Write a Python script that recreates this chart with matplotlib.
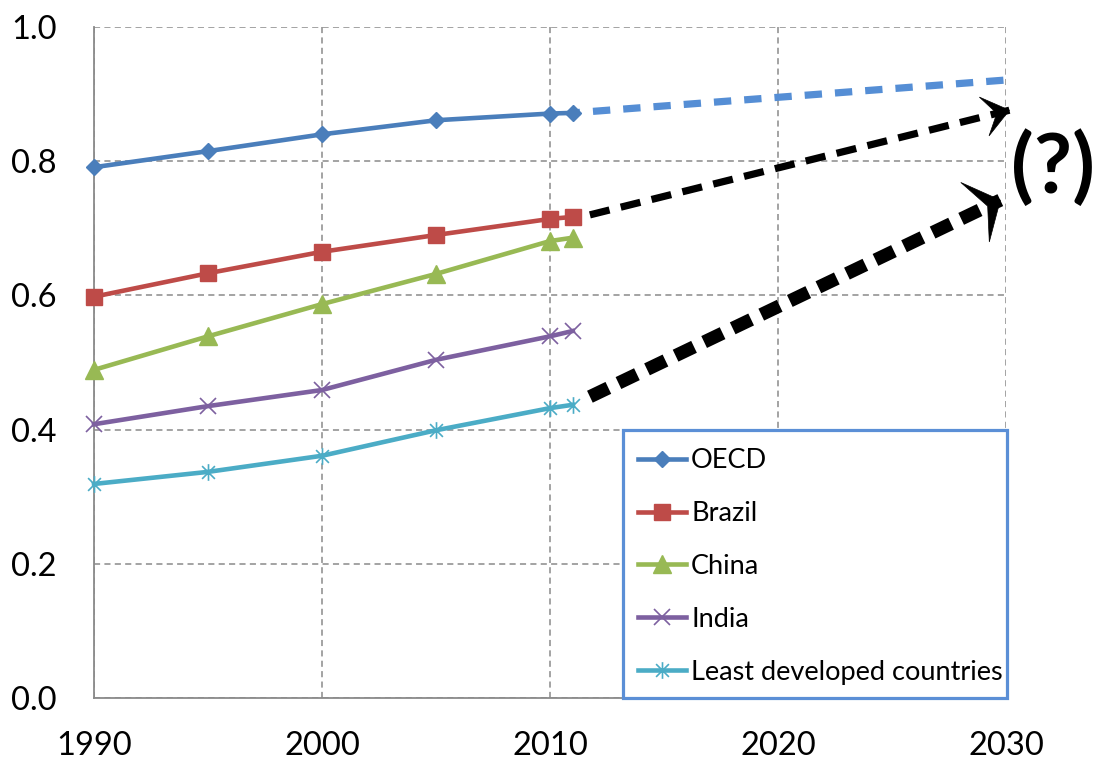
import numpy as np
import matplotlib
matplotlib.use("Agg")
import matplotlib.pyplot as plt
from matplotlib.path import Path
from matplotlib.patches import Polygon, Rectangle
import matplotlib.transforms as mtransforms

# ---- data ----
years = [1990, 1995, 2000, 2005, 2010, 2011]
oecd = [0.791, 0.815, 0.840, 0.861, 0.871, 0.872]
brazil = [0.598, 0.633, 0.665, 0.690, 0.714, 0.717]
china = [0.489, 0.539, 0.587, 0.632, 0.681, 0.686]
india = [0.408, 0.435, 0.459, 0.504, 0.539, 0.547]
ldc = [0.319, 0.337, 0.361, 0.399, 0.432, 0.437]

series_names = ["OECD", "Brazil", "China", "India", "Least developed countries"]

# projections to 2030
oecd_proj_years = [2011, 2030]
oecd_proj = [0.872, 0.921]
upper_arrow_years = [2011.75, 2030.15]
upper_arrow = [0.720, 0.876]
lower_arrow_years = [2011.75, 2029.75]
lower_arrow = [0.449, 0.742]

x_ticks = [1990, 2000, 2010, 2020, 2030]
y_ticks = [0.0, 0.2, 0.4, 0.6, 0.8, 1.0]

# ---- style ----
plt.rcParams["font.family"] = ["Lato", "DejaVu Sans"]
W, H, DPI = 1097, 765, 100
fig = plt.figure(figsize=(W / DPI, H / DPI), dpi=DPI)
ax = fig.add_axes([94 / W, 1 - 698 / H, (1006 - 94) / W, (698 - 27) / H])

grid_col = "#8a8a8a"
ax.set_xlim(1990, 2030)
ax.set_ylim(0, 1.0)
ax.set_xticks(x_ticks)
ax.set_yticks(y_ticks)
ax.set_yticklabels([f"{v:.1f}" for v in y_ticks])
ax.tick_params(axis="both", length=0, labelsize=23.5, colors="black")
ax.tick_params(axis="x", pad=24)
ax.tick_params(axis="y", pad=27)
ax.grid(True, color=grid_col, linestyle=(0, (4, 2.8)), linewidth=1.1)
ax.set_axisbelow(True)
for s in ("top", "right"):
    ax.spines[s].set_visible(False)
for s in ("left", "bottom"):
    ax.spines[s].set_color(grid_col)
    ax.spines[s].set_linewidth(1.3)

# six-armed asterisk marker
star = Path([(-1, -1), (1, 1), (-1, 1), (1, -1), (0, -1.3), (0, 1.3)],
            [Path.MOVETO, Path.LINETO, Path.MOVETO, Path.LINETO, Path.MOVETO, Path.LINETO])

styles = [
    dict(color="#4A7EBB", marker="D", ms=8.3),
    dict(color="#BE4B48", marker="s", ms=11.5),
    dict(color="#98B954", marker="^", ms=12.5),
    dict(color="#7D60A0", marker="x", ms=12, mew=1.2),
    dict(color="#4BACC6", marker=star, ms=12, mew=1.2),
]
values = [oecd, brazil, china, india, ldc]
for name, vals, st in zip(series_names, values, styles):
    ax.plot(years, vals, linewidth=3.3, label=name, clip_on=False, zorder=3, **st)

# projected trend for OECD
ax.plot(oecd_proj_years, oecd_proj, color="#558ED5", linewidth=5.2,
        linestyle=(1.4, (2.4, 1.8)), solid_capstyle="butt", zorder=2, clip_on=False)

# dashed black arrows
ax.plot(upper_arrow_years, upper_arrow, color="black", linewidth=5.2,
        linestyle=(0, (2.8, 1.6)), zorder=2, clip_on=False)
ax.plot(lower_arrow_years, lower_arrow, color="black", linewidth=9.5,
        linestyle=(0, (1.55, 0.85)), zorder=2, clip_on=False)


def head(xs, ys, length, width, notch):
    p0 = ax.transData.transform((xs[0], ys[0]))
    p1 = ax.transData.transform((xs[1], ys[1]))
    ang = np.degrees(np.arctan2(p1[1] - p0[1], p1[0] - p0[0]))
    shape = np.array([(0, 0), (-length, width / 2), (-notch, 0), (-length, -width / 2)])
    tr = mtransforms.Affine2D().rotate_deg(ang) + mtransforms.ScaledTranslation(
        xs[1], ys[1], ax.transData)
    ax.add_patch(Polygon(shape, closed=True, facecolor="black", edgecolor="black",
                         linewidth=0.5, transform=tr, clip_on=False, zorder=4))


head(upper_arrow_years, upper_arrow, 26, 40, 13)
head(lower_arrow_years, lower_arrow, 28, 66, 14)

ax.text(1.052, 0.79, "(?)", transform=ax.transAxes, fontsize=60, fontweight="bold",
        ha="center", va="center", clip_on=False)

# legend box: white panel with a blue outline in the lower right corner
ax.add_patch(Rectangle((0.580, 0.0), 0.421, 0.3994, transform=ax.transAxes,
                       facecolor="white", edgecolor="#5B8FD6", linewidth=2.3,
                       clip_on=False, zorder=4.5))
leg = ax.legend(loc="lower right", bbox_to_anchor=(1.0143, -0.0045), borderaxespad=0,
                fontsize=19.5, handlelength=1.78, handletextpad=0.19, labelspacing=1.03,
                borderpad=0.6, frameon=False)
leg.set_zorder(5)

fig.savefig("out.png", dpi=DPI)
